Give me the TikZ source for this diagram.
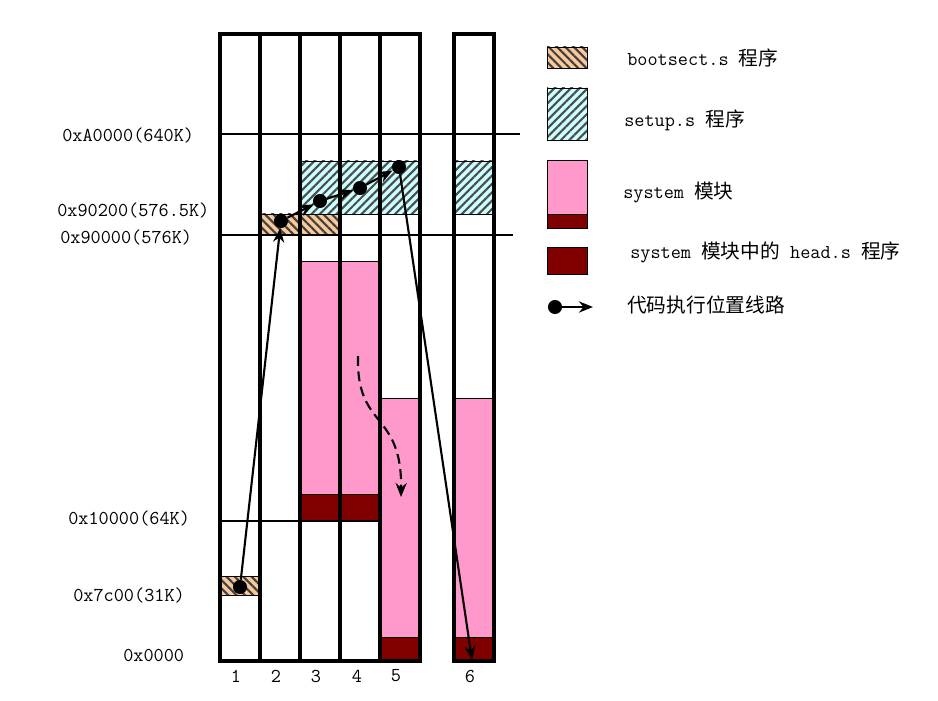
\documentclass[tikz,border=0pt]{standalone}
\usepackage{fontspec}
\newfontfamily\cjk{Noto Sans CJK SC}
\usetikzlibrary{patterns.meta,arrows.meta}

\definecolor{bootcol}{HTML}{F9C89B}
\definecolor{setupcol}{HTML}{CCFFFF}
\definecolor{syscol}{HTML}{FF99CC}
\definecolor{headcol}{HTML}{800000}

\tikzset{
  bootblk/.style={draw=black,thin,preaction={fill=bootcol},
    pattern={Lines[angle=-45,distance=4.2pt,line width=1.5pt]},pattern color=black!75},
  setupblk/.style={draw=black,thin,preaction={fill=setupcol},
    pattern={Lines[angle=45,distance=4.2pt,line width=1.5pt]},pattern color=black!70},
  sysblk/.style={draw=black,thin,fill=syscol},
  headblk/.style={draw=black,thin,fill=headcol},
  column/.style={draw=black,line width=2.2pt},
  addrline/.style={draw=black,line width=1pt},
  dot/.style={circle,fill=black,inner sep=0pt,minimum size=10pt},
  flow/.style={-{Stealth[length=10pt,width=8pt]},line width=1.5pt},
  lbl/.style={anchor=west,inner sep=0pt,font=\ttfamily\fontsize{14}{16}\selectfont}
}

\begin{document}
\begin{tikzpicture}[x=0.025cm,y=-0.025cm]

        \useasboundingbox (0,0) rectangle (938,701);

        % Blocks in columns
        \draw[bootblk] (220,576) rectangle (260,595);
        \draw[bootblk] (260,214) rectangle (340,235);
        \draw[setupblk] (300,161) rectangle (420,214);
        \draw[setupblk] (454,161) rectangle (494,214);
        \draw[sysblk] (300,261) rectangle (380,494);
        \draw[headblk] (300,494) rectangle (380,521);
        \draw[sysblk] (380,398) rectangle (420,637);
        \draw[headblk] (380,637) rectangle (420,661);
        \draw[sysblk] (454,398) rectangle (494,637);
        \draw[headblk] (452,637) rectangle (492,661);

        % Address lines
        \draw[addrline] (220,134) -- (520,134);
        \draw[addrline] (220,235) -- (513,235);
        \draw[addrline] (220,521) -- (380,521);

        % Columns
        \foreach \x in {220,260,300,340,380}
          \draw[column] (\x,34) rectangle (\x+40,661);
        \draw[column] (454,34) rectangle (494,661);

        % Column numbers
        \foreach \n/\x in {1/236,2/276,3/316,4/357,5/396,6/470}
          \node[lbl,anchor=center] (num\n) at (\x,676) {\n};

        % Addresses
        \node[lbl] (aA0000) at (62,135) {0xA0000(640K)};
        \node[lbl] (a90200) at (57,210) {0x90200(576.5K)};
        \node[lbl] (a90000) at (60,237) {0x90000(576K)};
        \node[lbl] (a10000) at (68,518) {0x10000(64K)};
        \node[lbl] (a7c00) at (73,595) {0x7c00(31K)};
        \node[lbl] (a0000) at (123,655) {0x0000};

        % Code path
        \node[dot] (d1) at (240,587) {};
        \node[dot] (d2) at (281,221) {};
        \node[dot] (d3) at (320,201) {};
        \node[dot] (d4) at (360,188) {};
        \node[dot] (d5) at (399,167) {};
        \coordinate (end6) at (472,660);
        \draw[flow] (d1) -- (d2);
        \draw[flow] (d2) -- (d3);
        \draw[flow] (d3) -- (d4);
        \draw[flow] (d4) -- (d5);
        \draw[flow] (d5) -- (end6);

        % Moving system
        \coordinate (mvstart) at (358,356);
        \coordinate (mvend) at (401,497);
        \draw[flow,dash pattern=on 7pt off 4pt] (mvstart) .. controls (356,430) and (402,410) .. (mvend);

        % Legend
        \draw[bootblk] (547,47) rectangle (587,68);
        \draw[setupblk] (547,88) rectangle (587,140);
        \draw[sysblk] (547,160) rectangle (587,214);
        \draw[headblk] (547,214) rectangle (587,228);
        \draw[headblk] (547,247) rectangle (587,274);
        \node[dot] (ldot) at (555,307) {};
        \coordinate (larrow) at (593,307);
        \draw[flow] (ldot) -- (larrow);

        \node[lbl] (tboot) at (627,58) {bootsect.s {\cjk 程序}};
        \node[lbl] (tsetup) at (624,120) {setup.s {\cjk 程序}};
        \node[lbl] (tsys) at (623,192) {system {\cjk 模块}};
        \node[lbl] (thead) at (630,252) {system {\cjk 模块中的} head.s {\cjk 程序}};
        \node[lbl] (tpath) at (627,305) {\cjk 代码执行位置线路};

    \end{tikzpicture}
\end{document}
